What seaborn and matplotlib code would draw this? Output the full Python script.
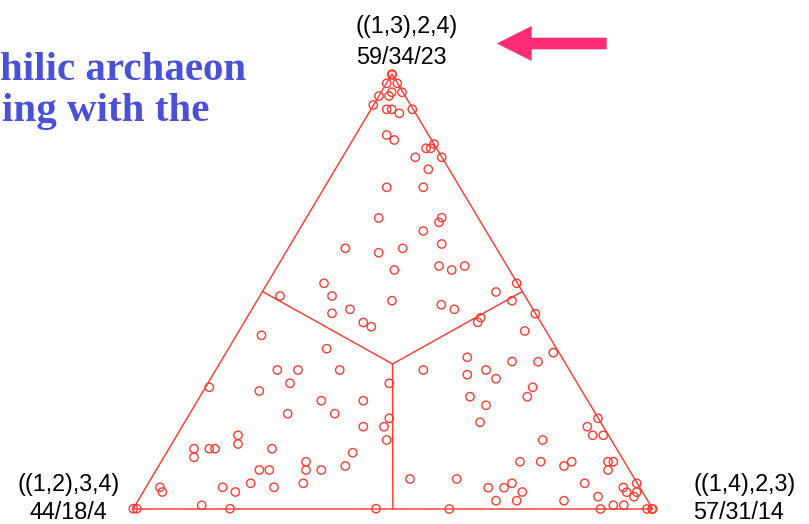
import matplotlib
matplotlib.use("Agg")
import matplotlib.pyplot as plt
import seaborn as sns
import pandas as pd
from matplotlib.patches import Polygon

sns.set_theme(style="white")
plt.rcParams["font.family"] = ["Liberation Sans", "DejaVu Sans"]

# Corner topologies of the likelihood-mapping triangle and their counts
corner_topologies = ["((1,2),3,4)", "((1,3),2,4)", "((1,4),2,3)"]
corner_counts = ["44/18/4", "59/34/23", "57/31/14"]

# Heading fragment shown at the top left
heading_lines = ["hilic archaeon", "ing with the"]

# Quartet positions in the triangle plane (base 0..520, apex height 435)
quartet_x = [
    260, 260, 254.7, 265.3, 259.7, 270, 247, 257, 241.3, 254.7,
    259.7, 267.3, 280.3, 254.7, 262.3, 302, 294, 298.7, 309.7, 283.3,
    296.3, 254.7, 291.3, 246.7, 309.7, 307, 291.3, 213.3, 246.7, 270.7,
    309.7, 262.3, 307, 319.7, 332.7, 192, 148, 200, 260, 218,
    200, 231.3, 239.3, 129.5, 194.7, 145.3, 166, 207.7, 158, 257.3,
    77.3, 127.3, 309.3, 322.3, 364, 384.7, 380, 348.7, 345.7, 392.7,
    403.3, 421.3, 335.3, 380, 406, 291.3, 335.3, 354, 364, 400.7,
    189.3, 231.3, 155.7, 202.7, 231.3, 257.3, 252, 254.7, 106, 106,
    62, 62, 77.3, 83, 140, 220.7, 174, 174, 189.3, 213.3,
    127.3, 137.3, 118.7, 171.3, 28, 30.3, 90.7, 103.3, 142, 69.7,
    1.3, 4.7, 98, 244, 395.3, 338, 354, 348, 466, 455.3,
    460.7, 471.3, 410.7, 388, 408.7, 432, 439.7, 476, 481.3, 476,
    278, 324.7, 504.7, 452.7, 491.3, 494.7, 504.7, 502, 356.3, 372,
    380, 390.3, 364, 384.7, 432, 466, 317.3, 468.5, 481.3, 491.8,
    515, 520.7, 520,
]
quartet_y = [
    435, 434, 425.7, 425.7, 416.7, 416.7, 413, 413, 404, 399.7,
    399.7, 395.7, 399.7, 374, 369, 365, 360.7, 360.7, 351.7, 351.7,
    339.7, 321.7, 321.7, 291, 291.3, 286.7, 278, 260.7, 256.3, 260.7,
    265, 239, 243, 239, 243, 225.7, 213, 213, 208.3, 199.7,
    195.7, 186.5, 182.3, 173.7, 160.3, 139, 139, 139, 125.7, 125.7,
    121.7, 118, 204.3, 199.7, 217, 225.7, 208.3, 191.3, 186.7, 178,
    195.3, 156.3, 151.7, 147.5, 147.3, 139, 134.3, 139, 130.3, 121.7,
    108.3, 108.3, 95.3, 95.3, 82.3, 90.7, 82.3, 69, 73.7, 65,
    60.3, 51.7, 60.3, 60.3, 60.3, 56.3, 47.3, 39, 39, 43,
    39, 39, 25.7, 25.7, 21.7, 17, 21.7, 17, 21.7, 3.7,
    0.3, 0.3, 0.3, 0.3, 112.3, 112.3, 103.7, 86.7, 90.7, 82.3,
    73.7, 73.7, 69, 47.3, 47.3, 43, 47.3, 47.3, 47.3, 39,
    30, 30, 25.7, 25.7, 21.5, 16.8, 16.8, 12.3, 21.3, 21.3,
    25.7, 17, 8.3, 8.3, 8.3, 12.3, 0, 0, 3.8, 3.8,
    0, 0, 0,
]

RED = "#FF3B30"
PINK = "#FF2D78"
BLUE = "#4A50D8"

quartets = pd.DataFrame({"x": quartet_x, "y": quartet_y})

fig = plt.figure(figsize=(8.09, 5.24), dpi=100)
fig.patch.set_facecolor("white")

# Triangle plane
ax = fig.add_axes([0, 0, 1, 1])
ax.set_xlim(-132, 677)
ax.set_ylim(-15, 509)
ax.axis("off")

left, right, top = (1.0, 0.0), (520.7, 0.0), (260.0, 435.0)
ax.plot([left[0], right[0], top[0], left[0]],
        [left[1], right[1], top[1], left[1]],
        color=RED, lw=1.05, zorder=2)

cx = (left[0] + right[0] + top[0]) / 3
cy = (left[1] + right[1] + top[1]) / 3
for a, b in [(left, top), (top, right), (left, right)]:
    mx, my = (a[0] + b[0]) / 2, (a[1] + b[1]) / 2
    ax.plot([cx, mx], [cy, my], color=RED, lw=1.05, zorder=2)

sns.scatterplot(data=quartets, x="x", y="y", ax=ax, marker="o", s=36,
                facecolor="none", edgecolor=RED, linewidth=1.0,
                legend=False, zorder=3)

# Annotation layer in pixel units
deco = fig.add_axes([0, 0, 1, 1], facecolor="none")
deco.set_xlim(0, 809)
deco.set_ylim(524, 0)
deco.axis("off")

fs = 16.8
deco.text(356, 33, corner_topologies[1], fontsize=fs, ha="left", va="baseline", color="black")
deco.text(356, 64, corner_counts[1], fontsize=fs, ha="left", va="baseline", color="black")
deco.text(68.5, 491.5, corner_topologies[0], fontsize=fs, ha="center", va="baseline", color="black")
deco.text(68.5, 519, corner_counts[0], fontsize=fs, ha="center", va="baseline", color="black")
deco.text(693.5, 491.5, corner_topologies[2], fontsize=fs, ha="left", va="baseline", color="black")
deco.text(693.5, 519, corner_counts[2], fontsize=fs, ha="left", va="baseline", color="black")

deco.text(246, 80, heading_lines[0], fontsize=29.5, family=["Liberation Serif", "DejaVu Serif"],
          fontweight="bold", color=BLUE, ha="right", va="baseline")
deco.text(209, 120.7, heading_lines[1], fontsize=29.5, family=["Liberation Serif", "DejaVu Serif"],
          fontweight="bold", color=BLUE, ha="right", va="baseline")

# Pointer arrow toward the top corner
arrow = Polygon([(496.7, 43.5), (531.7, 26), (531.7, 37.7), (606.7, 37.7),
                 (606.7, 49.3), (531.7, 49.3), (531.7, 61)],
                closed=True, facecolor=PINK, edgecolor="none")
deco.add_patch(arrow)

fig.savefig("out.png", dpi=100, facecolor="white")
